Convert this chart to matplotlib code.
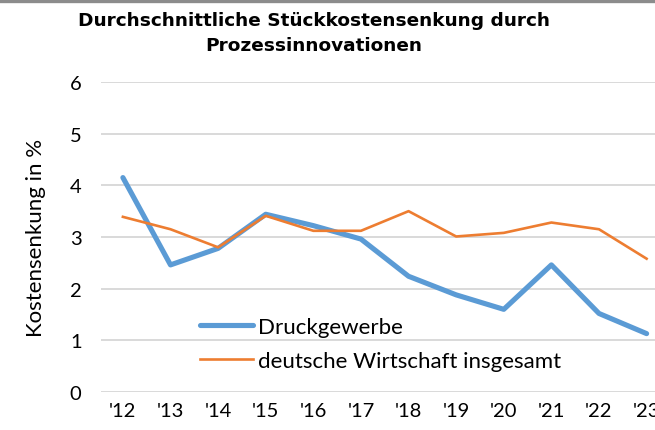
import numpy as np
import matplotlib.pyplot as plt
from matplotlib.lines import Line2D

# data
jahre = ["'12", "'13", "'14", "'15", "'16", "'17", "'18", "'19", "'20", "'21", "'22", "'23"]
druck = [4.15, 2.46, 2.78, 3.44, 3.22, 2.96, 2.24, 1.88, 1.60, 2.46, 1.52, 1.13]
wirtschaft = [3.39, 3.15, 2.80, 3.41, 3.12, 3.12, 3.50, 3.01, 3.08, 3.28, 3.15, 2.58]

plt.rcParams['font.family'] = ['Lato', 'DejaVu Sans']

W, H = 655, 431
fig = plt.figure(figsize=(W/100, H/100), dpi=100)
ax = fig.add_axes([101/W, (H-393)/H, (W-101)/W, (393-83)/H])

x = np.arange(len(jahre))
ax.plot(x, druck, color="#5b9bd5", lw=3.7, solid_capstyle="round", label="Druckgewerbe", zorder=3)
ax.plot(x, wirtschaft, color="#ed7d31", lw=1.9, label="deutsche Wirtschaft insgesamt", zorder=4)

ax.set_xlim(-0.46, (W-123)/47.6)
ax.set_ylim(0, 6)
ax.set_yticks(range(0, 7))
ax.set_xticks(x)
ax.set_xticklabels(jahre)
ax.grid(axis="y", color="#d9d9d9", lw=1.4)
ax.set_axisbelow(True)
for s in ax.spines.values():
    s.set_visible(False)
ax.tick_params(length=0, labelsize=14.5, colors="black")
ax.tick_params(axis="y", pad=14)
ax.tick_params(axis="x", pad=7)
ax.set_ylabel("Kostensenkung in %", fontsize=16, labelpad=17)

fig.suptitle("Durchschnittliche Stückkostensenkung durch\nProzessinnovationen",
             family="DejaVu Sans", fontweight="bold", fontsize=13.3, x=314/W, y=1-12/H,
             va="top", linespacing=1.5)

ax.legend(loc="upper left", bbox_to_anchor=(200/W, 1-318/H), bbox_transform=fig.transFigure,
          frameon=False, fontsize=16, handlelength=2.4, handletextpad=0.22,
          borderpad=0, borderaxespad=0, labelspacing=0.63)

# grey bar at the very top
fig.add_artist(Line2D([0, 1], [1-1.5/H, 1-1.5/H], color="#8c8c8c", lw=2.4, transform=fig.transFigure))

fig.savefig("out.png", dpi=100)
